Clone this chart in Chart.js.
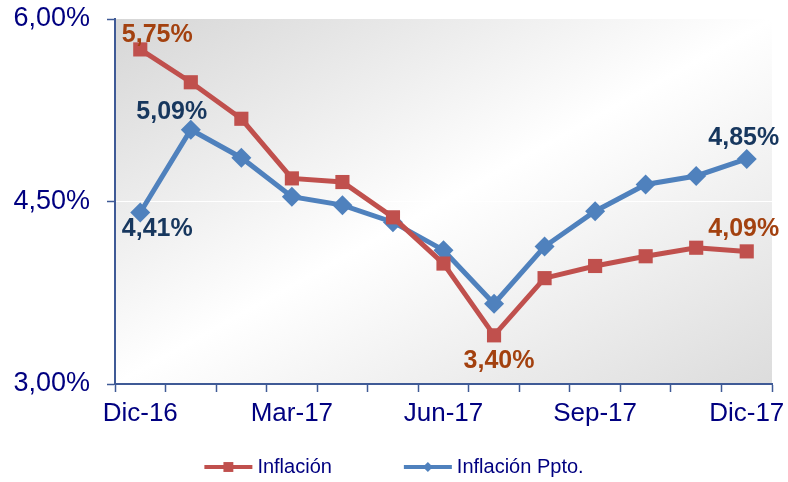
<!DOCTYPE html>
<html>
<head>
<meta charset="utf-8">
<script src="https://cdn.jsdelivr.net/npm/chart.js@4.4.0/dist/chart.umd.min.js"></script>
<style>
  html, body { margin: 0; padding: 0; background: #fff; }
  #wrap { width: 788px; height: 482px; }
</style>
</head>
<body>
<div id="wrap"><canvas id="chart"></canvas></div>
<script>
const months = ['Dic-16', 'Ene-17', 'Feb-17', 'Mar-17', 'Abr-17', 'May-17', 'Jun-17',
                'Jul-17', 'Ago-17', 'Sep-17', 'Oct-17', 'Nov-17', 'Dic-17'];
const inflacion = [5.75, 5.48, 5.18, 4.69, 4.66, 4.37, 3.99, 3.40, 3.87, 3.97, 4.05, 4.12, 4.09];
const inflacionPpto = [4.41, 5.09, 4.86, 4.54, 4.47, 4.33, 4.10, 3.66, 4.13, 4.42, 4.64, 4.71, 4.85];
const yTicks = [3.0, 4.5, 6.0];

const FONT = "'Liberation Sans', Arial, sans-serif";
const NAVY = '#000080';
const AXIS = '#3F5A96';

const pct = v => v.toFixed(2).replace('.', ',') + '%';

// grey -> white -> grey diagonal fill behind the plot
const plotBackground = {
    id: 'plotBackground',
    beforeDraw(chart) {
        const { ctx, chartArea: a } = chart;
        ctx.save();
        ctx.translate(a.left, a.top);
        ctx.scale(a.right - a.left, a.bottom - a.top);
        const g = ctx.createLinearGradient(0, 0, 1, 1);
        g.addColorStop(0, '#d6d6d6');
        g.addColorStop(0.5, '#ffffff');
        g.addColorStop(1, '#dcdcdc');
        ctx.fillStyle = g;
        ctx.fillRect(0, 0, 1, 1);
        ctx.restore();
    }
};

// value labels on a few points
const valueLabels = {
    id: 'valueLabels',
    afterDatasetsDraw(chart) {
        const ctx = chart.ctx;
        chart.data.datasets.forEach((ds, di) => {
            const meta = chart.getDatasetMeta(di);
            ds.valueLabels.forEach(l => {
                const pt = meta.data[l.index];
                ctx.save();
                ctx.font = 'bold 25px ' + FONT;
                ctx.fillStyle = ds.labelColor;
                ctx.textAlign = 'center';
                ctx.textBaseline = 'middle';
                ctx.fillText(pct(ds.data[l.index]), pt.x + l.dx, pt.y + l.dy);
                ctx.restore();
            });
        });
    }
};

// legend with line + marker, like the spreadsheet one
const lineLegend = {
    id: 'lineLegend',
    afterDraw(chart) {
        const ctx = chart.ctx;
        const lineLen = 48, gap = 5, itemGap = 72, y = 467;
        ctx.save();
        ctx.font = '20px ' + FONT;
        const items = chart.data.datasets.map(ds => ({ ds, w: lineLen + gap + ctx.measureText(ds.label).width }));
        const total = items.reduce((s, it) => s + it.w, 0) + itemGap * (items.length - 1);
        let x = chart.width / 2 - total / 2;
        items.forEach(({ ds, w }) => {
            ctx.strokeStyle = ds.borderColor;
            ctx.lineWidth = 4;
            ctx.beginPath();
            ctx.moveTo(x, y);
            ctx.lineTo(x + lineLen, y);
            ctx.stroke();
            ctx.fillStyle = ds.borderColor;
            Chart.helpers.drawPoint(ctx, {
                pointStyle: ds.pointStyle,
                radius: ds.legendRadius,
                borderWidth: 0
            }, x + lineLen / 2, y);
            ctx.fillStyle = NAVY;
            ctx.textAlign = 'left';
            ctx.textBaseline = 'middle';
            ctx.fillText(ds.label, x + lineLen + gap, y);
            x += w + itemGap;
        });
        ctx.restore();
    }
};

new Chart(document.getElementById('chart'), {
    type: 'line',
    data: {
        labels: months,
        datasets: [
            {
                label: 'Inflación',
                data: inflacion,
                borderColor: '#C0504D',
                backgroundColor: '#C0504D',
                borderWidth: 5,
                pointStyle: 'rect',
                pointRadius: 10,
                pointBorderWidth: 0,
                legendRadius: 7,
                labelColor: '#A3410F',
                valueLabels: [
                    { index: 0, dx: 17, dy: -14 },
                    { index: 7, dx: 5, dy: 26 },
                    { index: 12, dx: -3, dy: -22 }
                ]
            },
            {
                label: 'Inflación Ppto.',
                data: inflacionPpto,
                borderColor: '#4F81BD',
                backgroundColor: '#4F81BD',
                borderWidth: 5,
                pointStyle: 'rectRot',
                pointRadius: 10,
                pointBorderWidth: 0,
                legendRadius: 5,
                labelColor: '#17375E',
                valueLabels: [
                    { index: 0, dx: 17, dy: 17 },
                    { index: 1, dx: -19, dy: -18 },
                    { index: 12, dx: -3, dy: -21 }
                ]
            }
        ]
    },
    options: {
        responsive: true,
        maintainAspectRatio: false,
        animation: false,
        layout: { padding: { left: 0, right: 16, top: 19, bottom: 48 } },
        elements: { line: { tension: 0 } },
        plugins: {
            legend: { display: false },
            tooltip: { enabled: false }
        },
        scales: {
            x: {
                offset: true,
                grid: {
                    offset: true,
                    color: 'rgba(0,0,0,0)',
                    tickColor: AXIS,
                    tickLength: 8,
                    tickWidth: 1.5
                },
                border: { color: AXIS, width: 2 },
                ticks: {
                    autoSkip: false,
                    maxRotation: 0,
                    padding: 6,
                    color: NAVY,
                    font: { family: FONT, size: 26 },
                    callback: (v, i) => (i % 3 === 0 ? months[i] : '')
                },
                afterFit: s => {
                    s.height = 50;
                    s.paddingLeft = 0;
                    s.paddingRight = 0;
                }
            },
            y: {
                min: 3,
                max: 6,
                afterBuildTicks: s => { s.ticks = yTicks.map(v => ({ value: v })); },
                grid: {
                    color: c => (c.tick && c.tick.value === 4.5 ? '#ffffff' : 'rgba(0,0,0,0)'),
                    tickColor: AXIS,
                    tickLength: 8,
                    tickWidth: 1.5
                },
                border: { color: AXIS, width: 2 },
                ticks: {
                    padding: 17,
                    color: NAVY,
                    font: { family: FONT, size: 27 },
                    callback: v => pct(v)
                },
                afterFit: s => {
                    s.width = 115;
                    s.paddingTop = 0;
                    s.paddingBottom = 0;
                }
            }
        }
    },
    plugins: [plotBackground, valueLabels, lineLegend]
});
</script>
</body>
</html>
